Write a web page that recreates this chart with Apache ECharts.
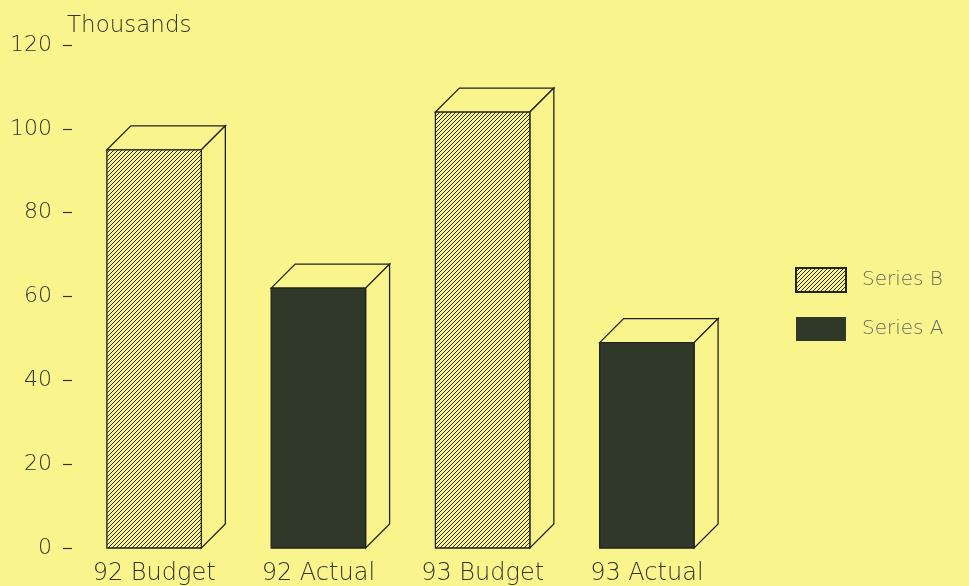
<!DOCTYPE html>
<html>
<head>
<meta charset="utf-8">
<script src="https://cdn.jsdelivr.net/npm/echarts@6/dist/echarts.min.js"></script>
<style>
    html, body { margin: 0; padding: 0; background: #faf48c; }
    #chart { width: 969px; height: 586px; }
</style>
</head>
<body>
<div id="chart"></div>
<script>
const categories = ['92 Budget', '92 Actual', '93 Budget', '93 Actual'];
const seriesB = [95, null, 104, null];
const seriesA = [null, 62, null, 49];
const yTicks = [0, 20, 40, 60, 80, 100, 120];

const bg = '#faf48c';
const dark = '#2f3829';
const edge = '#222';
const wideFont = '"DejaVu Sans"';

// diagonal hatch for Series B
function makeHatch() {
    const c = document.createElement('canvas');
    c.width = 4;
    c.height = 4;
    const ctx = c.getContext('2d');
    ctx.fillStyle = bg;
    ctx.fillRect(0, 0, 4, 4);
    ctx.strokeStyle = '#2a2a22';
    ctx.lineWidth = 1;
    ctx.beginPath();
    ctx.moveTo(-1, 5); ctx.lineTo(5, -1);
    ctx.moveTo(-1, 1); ctx.lineTo(1, -1);
    ctx.moveTo(3, 5); ctx.lineTo(5, 3);
    ctx.stroke();
    return { image: c, repeat: 'repeat' };
}
const hatch = makeHatch();

function toPairs(values) {
    return values.map((v, i) => [i, v]).filter(p => p[1] != null);
}

function barRenderer(frontFill) {
    return function (params, api) {
        const x = api.value(0);
        const v = api.value(1);
        const base = api.coord([x, 0]);
        const top = api.coord([x, v]);
        const w = api.size([1, 0])[0] * 0.575;
        const x0 = base[0] - w / 2, x1 = base[0] + w / 2;
        const y0 = top[1], y1 = base[1];
        const d = 24;
        const st = { stroke: edge, lineWidth: 1.3, fill: bg };
        return {
            type: 'group',
            children: [
                {
                    type: 'polygon',
                    shape: { points: [[x0, y0], [x0 + d, y0 - d], [x1 + d, y0 - d], [x1, y0]] },
                    style: st
                },
                {
                    type: 'polygon',
                    shape: { points: [[x1, y0], [x1 + d, y0 - d], [x1 + d, y1 - d], [x1, y1]] },
                    style: st
                },
                {
                    type: 'rect',
                    shape: { x: x0, y: y0, width: w, height: y1 - y0 },
                    style: { fill: frontFill, stroke: edge, lineWidth: 1.3 }
                }
            ]
        };
    };
}

const chart = echarts.init(document.getElementById('chart'));
const option = {
    backgroundColor: bg,
    animation: false,
    title: {
        text: 'Thousands',
        left: 62,
        top: 10,
        textStyle: { fontSize: 23, fontWeight: 200, color: '#333', fontFamily: wideFont }
    },
    legend: {
        orient: 'vertical',
        left: 790,
        top: 262,
        itemWidth: 50,
        itemHeight: 24,
        itemGap: 24,
        icon: 'rect',
        data: ['Series B', 'Series A'],
        textStyle: {
            fontSize: 20,
            fontWeight: 200,
            color: '#666',
            fontFamily: wideFont,
            padding: [0, 0, 0, 11]
        }
    },
    grid: { left: 72, right: 240, top: 45, bottom: 38, outerBoundsMode: 'none' },
    xAxis: {
        type: 'category',
        data: categories,
        axisLine: { show: false },
        axisTick: { show: false },
        axisLabel: { fontSize: 24, color: '#333', margin: 14, fontWeight: 200, fontFamily: wideFont }
    },
    yAxis: {
        type: 'value',
        min: yTicks[0],
        max: yTicks[yTicks.length - 1],
        interval: 20,
        splitLine: { show: false },
        axisLine: { show: false },
        axisTick: { show: true, length: 9, lineStyle: { color: '#333', width: 1.2 } },
        axisLabel: { fontSize: 22, color: '#333', margin: 20, fontWeight: 200, fontFamily: wideFont }
    },
    series: [
        {
            name: 'Series B',
            type: 'custom',
            renderItem: barRenderer(hatch),
            itemStyle: { color: hatch, borderColor: edge, borderWidth: 0.8 },
            data: toPairs(seriesB)
        },
        {
            name: 'Series A',
            type: 'custom',
            renderItem: barRenderer(dark),
            itemStyle: { color: dark },
            data: toPairs(seriesA)
        }
    ]
};
chart.setOption(option);
</script>
</body>
</html>
